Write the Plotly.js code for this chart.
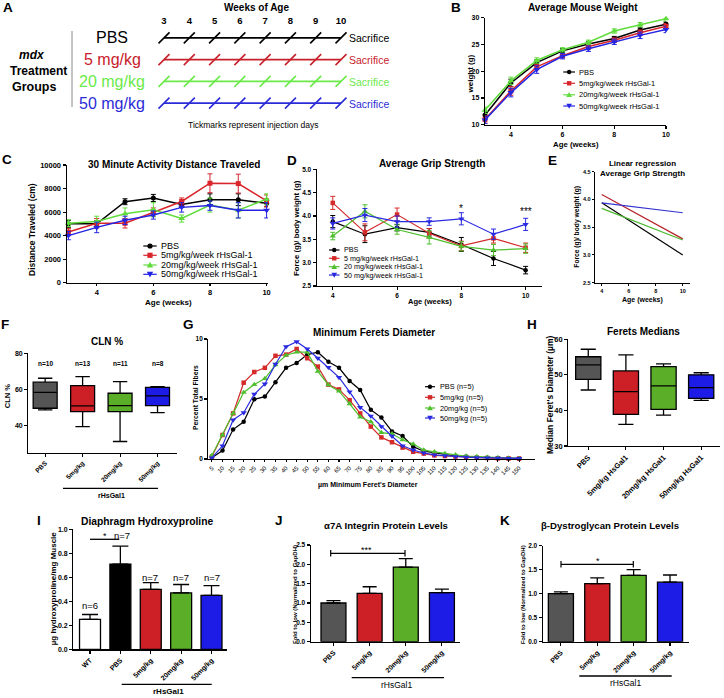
<!DOCTYPE html>
<html><head><meta charset="utf-8">
<script src="https://cdn.plot.ly/plotly-3.0.1.min.js"></script>
<style>html,body{margin:0;padding:0;background:#fff}#chart{width:724px;height:698px}</style>
</head><body><div id="chart"></div>
<script>
// ================= DATA =================
// A: treatment schedule
const groups = ['PBS','5 mg/kg','20 mg/kg','50 mg/kg'];
const injectionWeeks = [3,4,5,6,7,8,9,10];
// B: average mouse weight (g)
const weightWeeks = [3,4,5,6,7,8,9,10];
const weightPBS = [11.8,17.8,21.6,23.8,25.1,26.1,27.7,28.8];
const weight5   = [11.0,16.3,20.8,22.9,24.6,25.8,27.2,28.4];
const weight20  = [12.7,18.2,22.0,24.0,25.4,27.5,28.7,29.8];
const weight50  = [10.9,16.0,20.3,22.8,24.2,25.5,26.7,27.8];
const weightErrPBS = [0.6,0.7,0.5,0.4,0.4,0.4,0.4,0.4];
const weightErr5   = [0.7,0.8,0.5,0.4,0.5,0.4,0.5,0.5];
const weightErr20  = [0.6,0.7,0.5,0.4,0.4,0.4,0.4,0.4];
const weightErr50  = [0.7,0.8,0.7,0.5,0.5,0.5,0.6,0.6];
const namesB = ['PBS','5mg/kg/week rHsGal-1','20mg/kg/week rHsGal-1','50mg/kg/week rHsGal-1'];
// C: 30 minute activity distance (cm)
const distWeeks = [3,4,5,6,7,8,9,10];
const distPBS = [5000,5000,6880,7200,6650,7050,7050,6750];
const dist5   = [4300,5050,5050,6000,6900,8450,8420,6950];
const dist20  = [5050,5200,5850,6200,5450,6600,6150,7100];
const dist50  = [4000,4700,5300,5750,6400,6550,6150,6150];
const distErrPBS = [300,250,250,300,250,500,500,300];
const distErr5   = [300,400,400,350,300,800,800,500];
const distErr20  = [300,450,500,600,300,600,650,450];
const distErr50  = [350,450,350,350,400,400,650,650];
// D: grip strength (g / g body weight)
const gripWeeks = [4,5,6,7,8,9,10];
const gripPBS = [3.88,3.61,3.75,3.65,3.39,3.09,2.84];
const grip5   = [4.28,3.65,4.03,3.63,3.36,3.52,3.32];
const grip20  = [3.57,4.10,3.71,3.54,3.35,3.27,3.30];
const grip50  = [3.84,4.02,3.88,3.88,3.94,3.61,3.82];
const gripErrPBS = [0.13,0.18,0.07,0.08,0.15,0.15,0.08];
const gripErr5   = [0.14,0.18,0.14,0.10,0.10,0.10,0.10];
const gripErr20  = [0.08,0.14,0.10,0.14,0.10,0.12,0.10];
const gripErr50  = [0.12,0.14,0.12,0.08,0.13,0.11,0.13];
const namesD = ['PBS','5 mg/kg/week rHsGal-1','20 mg/kg/week rHsGal-1','50 mg/kg/week rHsGal-1'];
// E: linear regression of grip strength
const regWeeks = [4,10];
const regPBS = [3.94,3.00];
const reg5   = [4.09,3.29];
const reg20  = [3.84,3.27];
const reg50  = [3.94,3.76];
// F: CLN %
const clnCats = ['PBS','5mg/kg','20mg/kg','50mg/kg'];
const clnMin = [48.7,39.4,31.2,47.2];
const clnQ1  = [49.6,47.7,47.7,51.1];
const clnMed = [58.4,50.9,51.1,56.4];
const clnQ3  = [64.0,62.1,57.9,61.2];
const clnMax = [66.2,67.1,64.3,61.6];
const clnN = ['n=10','n=13','n=11','n=8'];
// G: minimum Feret's diameter distribution (% total fibers)
const feretBins = ['5','10','15','20','25','30','35','40','45','50','55','60','65','70','75','80','85','90','95','100','105','110','115','120','125','130','135','140','145','150'];
const fiberPBS = [0.1,0.7,2.45,3.1,4.97,5.2,6.4,7.6,8.0,8.7,8.9,8.1,7.6,6.5,5.75,4.1,3.45,2.3,1.92,1.03,0.65,0.5,0.35,0.25,0.2,0.15,0.1,0.08,0.05,0.05];
const fiber5   = [0.2,2.0,3.8,6.36,7.25,7.6,8.6,8.7,9.17,8.4,7.7,6.2,5.8,4.9,3.8,2.7,1.8,1.4,0.95,0.6,0.45,0.3,0.25,0.2,0.15,0.1,0.08,0.05,0.05,0.03];
const fiber20  = [0.3,2.0,3.8,5.55,6.2,6.7,7.85,8.65,8.9,8.9,7.3,6.17,5.65,4.6,3.5,3.1,2.2,2.1,1.6,1.25,0.75,0.6,0.45,0.35,0.25,0.2,0.15,0.1,0.08,0.05];
const fiber50  = [0.1,1.1,3.25,3.86,5.4,6.25,7.9,9.36,9.78,9.17,8.4,7.64,6.8,5.6,4.3,3.58,2.7,1.9,1.1,0.75,0.5,0.35,0.28,0.2,0.15,0.12,0.1,0.08,0.05,0.05];
const namesG = ['PBS (n=5)','5mg/kg (n=5)','20mg/kg (n=5)','50mg/kg (n=5)'];
// H: Feret medians (um)
const ferCats = ['PBS','5mg/kg HsGal1','20mg/kg HsGal1','50mg/kg HsGal1'];
const ferMin = [45.75,36.1,38.7,42.8];
const ferQ1  = [48.75,38.9,40.3,43.4];
const ferMed = [52.8,45.3,46.9,46.4];
const ferQ3  = [55.1,51.1,52.3,50.0];
const ferMax = [57.2,55.6,53.1,50.6];
// I: diaphragm hydroxyproline
const hypCats = ['WT','PBS','5mg/kg','20mg/kg','50mg/kg'];
const hypVals = [0.25,0.71,0.50,0.47,0.45];
const hypErr  = [0.04,0.15,0.055,0.07,0.08];
const hypN = ['n=6','n=7','n=7','n=7','n=7'];
// J: a7A integrin
const protCats = ['PBS','5mg/kg','20mg/kg','50mg/kg'];
const itgVals = [1.00,1.25,1.93,1.27];
const itgErr  = [0.06,0.17,0.22,0.09];
// K: b-dystroglycan
const dgVals = [1.00,1.21,1.38,1.24];
const dgErr  = [0.04,0.12,0.12,0.15];

// ================= STYLE =================
const W=724, H=698, FF='Liberation Sans, Arial, Helvetica, sans-serif';
const colA = ['#000000','#c8202a','#6aea48','#2b2bd8'];
const colL = ['#000000','#d8262c','#5fdc3c','#2424e2'];
const colD = ['#000000','#d42a2a','#4fbf2f','#2a2ae0'];
const colE = ['#000000','#b8242a','#4cb830','#3333d0'];
const boxCols = ['#555555','#cc1f26','#5aae28','#1c1ce6'];
const hypCols = ['#ffffff','#000000','#cc1f26','#5aae28','#1c1ce6'];
const syms = ['circle','square','triangle-up','triangle-down'];

const px = x => x/W, py = y => 1 - y/H;
const layout = {width:W,height:H,margin:{l:0,r:0,t:0,b:0},paper_bgcolor:'#fff',plot_bgcolor:'rgba(0,0,0,0)',
  showlegend:false,annotations:[],shapes:[],font:{family:FF,color:'#000'}};
const tf = (s,b=true)=>({family:FF,size:s,color:'#000',weight:b?'bold':'normal'});
function axes(n,x0,x1,y0,y1,xo,yo){
  const base = {showline:true,linecolor:'#000',linewidth:1.2,ticks:'outside',ticklen:3,tickwidth:1.1,tickcolor:'#000',
    showgrid:false,zeroline:false,fixedrange:true,automargin:false,tickfont:tf(7)};
  const s = n===1?'':String(n);
  layout['xaxis'+s] = Object.assign({},base,{domain:[px(x0),px(x1)],anchor:'y'+s},xo);
  layout['yaxis'+s] = Object.assign({},base,{domain:[py(y1),py(y0)],anchor:'x'+s},yo);
}
function T(text,x,y,size,o={}){
  layout.annotations.push(Object.assign({xref:'paper',yref:'paper',x:px(x),y:py(y),text:text,showarrow:false,
    xanchor:'center',yanchor:'middle',borderpad:0,font:{family:FF,size:size,color:o.color||'#000'}},o.ann||{}));
}
function L(x0,y0,x1,y1,color='#000',w=1.2){
  layout.shapes.push({type:'line',xref:'paper',yref:'paper',x0:px(x0),y0:py(y0),x1:px(x1),y1:py(y1),line:{color:color,width:w}});
}
function M(sym,cx,cy,r,color){
  const sh={xref:'paper',yref:'paper',fillcolor:color,line:{width:0}};
  if(sym==='circle') Object.assign(sh,{type:'circle',x0:px(cx-r),x1:px(cx+r),y0:py(cy+r),y1:py(cy-r)});
  else if(sym==='square') Object.assign(sh,{type:'rect',x0:px(cx-r),x1:px(cx+r),y0:py(cy+r),y1:py(cy-r)});
  else { const q=r+0.6, d = sym==='triangle-up'?1:-1;
    Object.assign(sh,{type:'path',path:`M${px(cx-q)},${py(cy+d*q*0.8)} L${px(cx+q)},${py(cy+d*q*0.8)} L${px(cx)},${py(cy-d*q)} Z`}); }
  layout.shapes.push(sh);
}
function legendBlock(names,cols,xl,xr,xt,ys,size,r){
  names.forEach((nm,i)=>{ L(xl,ys[i],xr,ys[i],cols[i],1.2); M(syms[i],(xl+xr)/2,ys[i],r,cols[i]);
    T(nm,xt,ys[i],size,{ann:{xanchor:'left'}}); });
}

// ================= AXES =================
axes(1,164,341,27,114,{range:[3,10],side:'top',showline:false,ticks:'',tickvals:injectionWeeks,tickfont:tf(9.5)},
  {type:'category',categoryorder:'array',categoryarray:groups.slice().reverse(),range:[-0.5,3.5],visible:false});
axes(2,485,666,17.7,124.7,{range:[3,10],tickvals:[4,6,8,10]},{range:[10,30],tickvals:[10,15,20,25,30]});
axes(3,66.7,268,165,282.7,{range:[2.94,10.05],tickvals:[4,6,8,10],tickfont:tf(7.5),ticklen:2.5},
  {range:[0,10000],tickvals:[0,2000,4000,6000,8000,10000],tickformat:'d',tickfont:tf(7.5)});
axes(4,316.7,541.7,169.3,286,{range:[3.5,10.5],tickvals:[4,6,8,10],tickfont:tf(6.5)},
  {range:[2.5,5],dtick:0.5,tickformat:'.1f',tickfont:tf(6.5)});
axes(5,595,689.5,171.7,282.7,{range:[3.5,10.5],tickvals:[4,6,8,10],tickfont:tf(5.5),ticklen:2},
  {range:[2.5,4.5],dtick:0.5,tickformat:'.1f',tickfont:tf(5.5),ticklen:2});
axes(6,28.3,177,353.3,452.7,{type:'category',range:[-0.45,3.52],tickangle:-45,tickfont:tf(6.5)},
  {range:[25,80],tickvals:[40,60,80],tickfont:tf(7)});
axes(7,208.3,535,339,459,{type:'category',range:[-0.34,30.5],tickangle:-45,tickfont:tf(6,false),ticklen:2},
  {range:[0,10],tickvals:[0,5,10],tickfont:tf(6.5)});
axes(8,568.3,720,339.3,446,{type:'category',range:[-0.53,3.5],tickangle:-45,tickfont:tf(7.5)},
  {range:[30,60],dtick:10,tickfont:tf(7.5)});
axes(9,73.3,226.7,529.3,649.3,{type:'category',range:[-0.55,4.5],tickangle:-45,tickfont:tf(7)},
  {range:[0,1],dtick:0.2,tickformat:'.1f',tickfont:tf(7)});
axes(10,310.7,460,545,641.7,{type:'category',range:[-0.63,3.5],tickangle:-45,tickfont:tf(7)},
  {range:[0,2.5],dtick:0.5,tickformat:'.1f',tickfont:tf(6.5)});
axes(11,542.7,689.3,545.7,641.7,{type:'category',range:[-0.5,3.53],tickangle:-45,tickfont:tf(7)},
  {range:[0,2],dtick:0.5,tickformat:'.1f',tickfont:tf(6.5)});

// ================= TRACES =================
const traces = [];
// A schedule lines with injection tick marks
groups.forEach((g,i)=>traces.push({type:'scatter',mode:'lines+markers',xaxis:'x',yaxis:'y',name:g,
  x:injectionWeeks,y:injectionWeeks.map(()=>g),line:{color:colA[i],width:1.6},
  marker:{symbol:'line-ne',size:11,color:colA[i],line:{color:colA[i],width:1.6}},cliponaxis:false,hoverinfo:'skip'}));
// generic line+error series
function lineSeries(ax,xs,series,errs,names,cols,lw,ms){
  series.forEach((s,i)=>traces.push({type:'scatter',mode:'lines+markers',xaxis:'x'+ax,yaxis:'y'+ax,name:names[i],x:xs,y:s,
    error_y:errs?{type:'data',array:errs[i],color:cols[i],thickness:1,width:2.5}:undefined,
    line:{color:cols[i],width:lw},marker:{symbol:syms[i],size:i>=2?ms+1:ms,color:cols[i]},cliponaxis:false}));
}
lineSeries(2,weightWeeks,[weightPBS,weight5,weight20,weight50],[weightErrPBS,weightErr5,weightErr20,weightErr50],namesB,colL,1.5,5);
lineSeries(3,distWeeks,[distPBS,dist5,dist20,dist50],[distErrPBS,distErr5,distErr20,distErr50],namesB,colL,1.5,5);
lineSeries(4,gripWeeks,[gripPBS,grip5,grip20,grip50],[gripErrPBS,gripErr5,gripErr20,gripErr50],namesD,colD,1.2,4.5);
[regPBS,reg5,reg20,reg50].forEach((s,i)=>traces.push({type:'scatter',mode:'lines',xaxis:'x5',yaxis:'y5',name:namesD[i],
  x:regWeeks,y:s,line:{color:colE[i],width:1.2}}));
lineSeries(7,feretBins,[fiberPBS,fiber5,fiber20,fiber50],null,namesG,colD,1.2,4.5);
// boxes
function boxes(ax,cats,mn,q1,md,q3,mx,w){
  cats.forEach((c,i)=>traces.push({type:'box',xaxis:'x'+ax,yaxis:'y'+ax,name:c,x:[c],lowerfence:[mn[i]],q1:[q1[i]],
    median:[md[i]],q3:[q3[i]],upperfence:[mx[i]],fillcolor:boxCols[i],line:{color:'#000',width:1.3},
    width:w,whiskerwidth:0.6,boxpoints:false,hoverinfo:'skip'}));
}
boxes(6,clnCats,clnMin,clnQ1,clnMed,clnQ3,clnMax,0.64);
boxes(8,ferCats,ferMin,ferQ1,ferMed,ferQ3,ferMax,0.67);
// bars
function bars(ax,cats,vals,errs,cols,cap){
  traces.push({type:'bar',xaxis:'x'+ax,yaxis:'y'+ax,x:cats,y:vals,width:0.69,
    marker:{color:cols,line:{color:'#000',width:1.3}},
    error_y:{type:'data',array:errs,arrayminus:errs.map(()=>0),symmetric:false,color:'#000',thickness:1.3,width:cap},hoverinfo:'skip'});
}
bars(9,hypCats,hypVals,hypErr,hypCols,8);
bars(10,protCats,itgVals,itgErr,boxCols,7);
bars(11,protCats,dgVals,dgErr,boxCols,7);

// ================= TEXT / DECORATION =================
// panel letters
[['A',7.5,8],['B',456,8],['C',7,159],['D',292,160],['E',552,160],['F',5,324.5],['G',188,324],
 ['H',532,324],['I',38.5,520],['J',279,520],['K',505,520.5]].forEach(p=>T('<b>'+p[0]+'</b>',p[1],p[2],13.5));
// A
T('<b>Weeks of Age</b>',256,8,10);
T('<b><i>mdx</i></b>',32,54.5,12); T('<b>Treatment</b>',38,71,12); T('<b>Groups</b>',34,86.5,12.5);
L(72,31,72,107,'#8a8a8a',1);
const rowY=[37.9,59.6,81.4,103.1];
groups.forEach((g,i)=>{ T(g,112,rowY[i],16,{color:colA[i]}); T('Sacrifice',348,rowY[i]+0.5,10.5,{color:colA[i],ann:{xanchor:'left'}}); });
T('Tickmarks represent injection days',253,125,8.5);
// B
T('<b>Average Mouse Weight</b>',582.6,7.5,10);
T('<b>weight (g)</b>',470,73.5,8,{ann:{textangle:-90}});
T('<b>Age (weeks)</b>',576,144.3,7.8);
legendBlock(namesB,colL,563.3,575,578.3,[72,83.3,94.8,106],7.5,2.2);
// C
T('<b>30 Minute Activity Distance Traveled</b>',174,164.5,10);
T('<b>Distance Traveled (cm)</b>',32,230,8.5,{ann:{textangle:-90}});
T('<b>Age (weeks)</b>',168,302.5,8);
legendBlock(namesB,colL,143.3,156.7,160,[246,255.3,265,274.3],9,2.6);
// D
T('<b>Average Grip Strength</b>',431.7,164,10);
T('<b>Force (g)/ body weight (g)</b>',296,228,7.8,{ann:{textangle:-90}});
T('<b>Age (weeks)</b>',430,301.5,7.5);
legendBlock(namesD,colD,329,339.5,343,[250,258.3,266.7,275],7.2,2.2);
layout.annotations.push({xref:'x4',yref:'y4',x:8,y:4.17,text:'*',showarrow:false,font:{family:FF,size:10,color:'#000'}});
layout.annotations.push({xref:'x4',yref:'y4',x:10,y:4.1,text:'***',showarrow:false,font:{family:FF,size:10,color:'#000'}});
// E
T('<b>Linear regression<br>Average Grip Strength</b>',642,168.7,8);
T('<b>Force (g)/ body weight (g)</b>',576.7,227,6.7,{ann:{textangle:-90}});
T('<b>Age (weeks)</b>',642.7,299.5,7);
// F
T('<b>CLN %</b>',106.7,341,10);
T('<b>CLN %</b>',7.5,396.7,7.5,{ann:{textangle:-90}});
[45,82.5,120,157.5].forEach((x,i)=>T('<b>'+clnN[i]+'</b>',x,363.3,6.5));
L(63,488.3,158,488.3,'#000',1.3); T('<b>rHsGal1</b>',111.7,495,7);
// G
T('<b>Minimum Ferets Diameter</b>',373.8,332.7,10);
T('<b>Percent Total Fibers</b>',195,398,6.8,{ann:{textangle:-90}});
T('<b>µm Minimum Feret\'s Diameter</b>',368,485,7);
legendBlock(namesG,colD,425,435,439.3,[386.7,397.3,408,418],7.3,2.2);
// H
T('<b>Ferets Medians</b>',643.8,331,10);
T('<b>Median Feret\'s Diameter (µm)</b>',550,395,8.5,{ann:{textangle:-90}});
// I
T('<b>Diaphragm Hydroxyproline</b>',147,521.7,10.3);
T('<b>µg hydroxyproline/mg Muscle</b>',53.3,588,8,{ann:{textangle:-90}});
T(hypN[0],90,605.7,9.5); T(hypN[1],121.5,535.7,9.5);
[150,181,211.7].forEach((x,i)=>T(hypN[i+2],x,577,9.5));
L(90,539.3,119.3,539.3,'#000',1.3); T('*',104.5,536,9);
L(121.7,684.3,211.7,684.3,'#000',1.3); T('<b>rHsGal1</b>',168.3,691,8);
// J
T('<b>α7A Integrin Protein Levels</b>',386,525.5,9.6);
T('<b>Fold to low (Normalized to GapDH)</b>',295,595,6,{ann:{textangle:-90}});
L(330.7,553.3,405,553.3,'#000',1.2); L(330.7,550,330.7,556.6,'#000',1.2); L(405,550,405,556.6,'#000',1.2);
T('***',366.7,549.5,9);
L(351.7,677.7,444,677.7,'#000',1.3); T('rHsGal1',396.7,685,8.5);
// K
T('<b>β-Dystroglycan Protein Levels</b>',610.3,525.5,9.6);
T('<b>Fold to low (Normalized to GapDH)</b>',523.3,595,6,{ann:{textangle:-90}});
L(561,564.3,633.3,564.3,'#000',1.2); L(561,561,561,567.6,'#000',1.2); L(633.3,561,633.3,567.6,'#000',1.2);
T('*',598.3,561,9);
L(579.3,676,671.7,676,'#000',1.3); T('rHsGal1',625,683.3,8.5);

Plotly.newPlot('chart',traces,layout,{staticPlot:true,displayModeBar:false});
</script></body></html>
